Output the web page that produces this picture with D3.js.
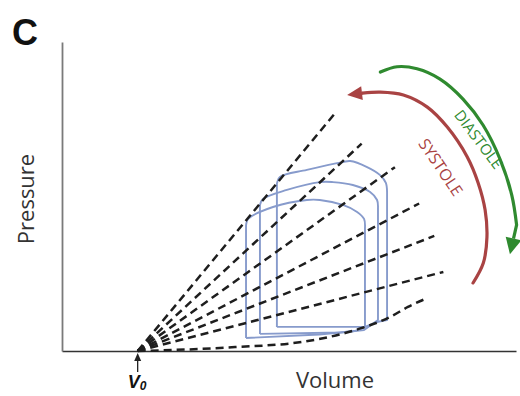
<!DOCTYPE html>
<html>
<head>
<meta charset="utf-8">
<script src="https://cdn.jsdelivr.net/npm/d3@7/dist/d3.min.js"></script>
<style>
  html, body { margin: 0; padding: 0; background: #fff; }
  svg { display: block; }
</style>
</head>
<body>
<svg id="chart" width="520" height="396"></svg>
<script>
// Time-varying elastance: pressure–volume loops, ESPVR fan and EDPVR

// Volume-axis intercept of the elastance lines (ml)
const v0 = 25;

// Instantaneous elastance lines: slope (mmHg/ml) and end volume (ml)
const elastance = [1.77, 1.36, 1.05, 0.77, 0.57, 0.38];
const elastanceEndVolume = [90, 99, 110, 118, 123, 126];

// End-diastolic pressure–volume relation [volume, pressure]
const edpvr = [
  [25, 0], [45.6, 1.0], [57.2, 1.9], [79.3, 4.4], [93.5, 8.7],
  [99.1, 11.2], [108.4, 16.5], [114.3, 21.4], [119.9, 25.2]
];

// Pressure–volume loops [volume, pressure]; points 1..9 trace the rounded ejection phase
const loopHigh = [
  [71.0, 11.7], [71.0, 81.1], [72.0, 84.5], [80.9, 87.9], [92.8, 91.7],
  [95.2, 92.2], [100.8, 89.3], [105.1, 85.4], [107.0, 81.6], [107.4, 77.2],
  [107.4, 15.0], [104.4, 14.2], [100.1, 11.7], [71.0, 11.7]
];
const loopMid = [
  [65.4, 8.3], [65.4, 70.9], [66.4, 73.8], [74.3, 78.2], [85.2, 82.0],
  [89.5, 82.0], [96.1, 80.6], [101.8, 77.2], [104.1, 73.3], [104.4, 69.4],
  [104.4, 15.0], [99.8, 10.2], [92.0, 9.0], [65.4, 8.3]
];
const loopLow = [
  [60.8, 6.3], [60.8, 60.7], [61.5, 64.1], [69.7, 69.9], [80.9, 73.3],
  [85.2, 73.3], [92.8, 70.9], [97.5, 67.5], [99.8, 64.1], [100.1, 59.7],
  [100.1, 11.7], [96.8, 9.7], [85.0, 8.0], [60.8, 6.3]
];
const loops = [loopLow, loopMid, loopHigh];
const arcStart = 1, arcEnd = 9;

// Phase arrows [volume, pressure]
const systoleArc = [
  [135.8, 33.0], [139.2, 42.7], [140.4, 55.3], [139.8, 68.4], [137.5, 81.6],
  [133.9, 94.2], [127.3, 108.7], [120.7, 118.4], [112.8, 124.3],
  [105.2, 125.7], [99.3, 125.2]
];
const diastoleArc = [
  [105.2, 135.4], [110.7, 138.0], [117.3, 137.0], [124.9, 132.0],
  [132.5, 122.3], [139.1, 109.7], [144.7, 93.2], [148.6, 75.7], [150.2, 61.2]
];
const systoleTip = [94.2, 124.3];
const diastoleTip = [148.0, 47.0];

const labels = { panel: "C", x: "Volume", y: "Pressure", systole: "SYSTOLE", diastole: "DIASTOLE" };

const svg = d3.select("#chart");
const x = d3.scaleLinear().domain([0, 150]).range([62, 516]);
const y = d3.scaleLinear().domain([0, 150]).range([351, 42]);

const font = "'Open Sans', Lato, sans-serif";

// Axes (no ticks)
svg.append("g")
  .attr("transform", `translate(0,${y(0)})`)
  .call(d3.axisBottom(x).tickValues([]).tickSizeOuter(0))
  .select(".domain").attr("stroke", "#333").attr("stroke-width", 1.6);
svg.append("g")
  .attr("transform", `translate(${x(0)},0)`)
  .call(d3.axisLeft(y).tickValues([]).tickSizeOuter(0))
  .select(".domain").attr("stroke", "#7a7a7a").attr("stroke-width", 1.8);

// Pressure–volume loops: straight isovolumic/filling edges, smooth ejection arc
const arcLine = d3.line().x(d => x(d[0])).y(d => y(d[1])).curve(d3.curveCatmullRom.alpha(0.5));
function loopPath(pts) {
  const head = pts.slice(0, arcStart + 1);
  const arc = pts.slice(arcStart, arcEnd + 1);
  const tail = pts.slice(arcEnd);
  const lin = p => `${x(p[0])},${y(p[1])}`;
  let d = "M" + lin(head[0]);
  head.slice(1).forEach(p => { d += "L" + lin(p); });
  d += arcLine(arc).replace(/^M[^CLQ]*/, "");
  tail.slice(1).forEach(p => { d += "L" + lin(p); });
  return d;
}
svg.append("g").selectAll("path").data(loops).join("path")
  .attr("d", loopPath)
  .attr("fill", "none")
  .attr("stroke", "#879bcc")
  .attr("stroke-width", 1.9)
  .attr("stroke-linejoin", "round");

// Elastance lines radiating from V0
const dash = "8,5";
svg.append("g").selectAll("line").data(elastance).join("line")
  .attr("x1", x(v0)).attr("y1", y(0))
  .attr("x2", (e, i) => x(elastanceEndVolume[i]))
  .attr("y2", (e, i) => y(e * (elastanceEndVolume[i] - v0)))
  .attr("stroke", "#1e1e1e")
  .attr("stroke-width", 2.5)
  .attr("stroke-dasharray", dash);

// EDPVR curve
svg.append("path")
  .attr("d", d3.line().x(d => x(d[0])).y(d => y(d[1])).curve(d3.curveMonotoneX)(edpvr))
  .attr("fill", "none")
  .attr("stroke", "#1e1e1e")
  .attr("stroke-width", 2.5)
  .attr("stroke-dasharray", dash);

// Curved phase arrows with filled heads
function arrow(points, tip, color, width, headLen, headHalf) {
  const line = d3.line().x(d => x(d[0])).y(d => y(d[1])).curve(d3.curveCatmullRom.alpha(0.5));
  svg.append("path")
    .attr("d", line(points))
    .attr("fill", "none")
    .attr("stroke", color)
    .attr("stroke-width", width)
    .attr("stroke-linecap", "round");
  const last = points[points.length - 1];
  const tx = x(tip[0]), ty = y(tip[1]);
  const lx = x(last[0]), ly = y(last[1]);
  const ang = Math.atan2(ty - ly, tx - lx);
  const bx = tx - headLen * Math.cos(ang), by = ty - headLen * Math.sin(ang);
  const px = -Math.sin(ang) * headHalf, py = Math.cos(ang) * headHalf;
  svg.append("path")
    .attr("d", `M${lx},${ly}L${bx},${by}`)
    .attr("stroke", color).attr("stroke-width", width).attr("fill", "none");
  svg.append("path")
    .attr("d", `M${tx},${ty}L${bx + px},${by + py}L${bx - px},${by - py}Z`)
    .attr("fill", color);
}
arrow(systoleArc, systoleTip, "#a94343", 3.2, 15, 7);
arrow(diastoleArc, diastoleTip, "#2f8a2f", 3.2, 16, 8);

// Phase labels
svg.append("text")
  .attr("transform", "translate(441,167) rotate(56)")
  .attr("text-anchor", "middle").attr("dominant-baseline", "central")
  .attr("font-family", font).attr("font-size", 16)
  .attr("fill", "#a94343")
  .text(labels.systole);
svg.append("text")
  .attr("transform", "translate(479,139) rotate(53)")
  .attr("text-anchor", "middle").attr("dominant-baseline", "central")
  .attr("font-family", font).attr("font-size", 15)
  .attr("fill", "#2f8a2f")
  .text(labels.diastole);

// V0 marker arrow
const vx = x(v0);
svg.append("line")
  .attr("x1", vx).attr("y1", 372).attr("x2", vx).attr("y2", 358)
  .attr("stroke", "#222").attr("stroke-width", 1.3);
svg.append("path")
  .attr("d", `M${vx},353L${vx - 3.5},361L${vx + 3.5},361Z`)
  .attr("fill", "#222");

const v0Label = svg.append("text")
  .attr("x", vx - 10).attr("y", 388)
  .attr("font-family", "'Liberation Sans', Arial, sans-serif")
  .attr("font-size", 18).attr("font-weight", "bold").attr("font-style", "italic")
  .attr("fill", "#111");
v0Label.append("tspan").text("V");
v0Label.append("tspan").attr("font-size", 12).attr("dy", 2).text("0");

// Axis titles
svg.append("text")
  .attr("x", 335).attr("y", 388)
  .attr("text-anchor", "middle")
  .attr("font-family", font).attr("font-size", 22)
  .attr("fill", "#333")
  .text(labels.x);
svg.append("text")
  .attr("transform", "translate(34,199) rotate(-90)")
  .attr("text-anchor", "middle")
  .attr("font-family", font).attr("font-size", 22)
  .attr("fill", "#333")
  .text(labels.y);

// Panel letter
svg.append("text")
  .attr("x", 12).attr("y", 45)
  .attr("font-family", "'Liberation Sans', Arial, sans-serif")
  .attr("font-size", 36).attr("font-weight", "bold")
  .attr("fill", "#111")
  .text(labels.panel);
</script>
</body>
</html>
